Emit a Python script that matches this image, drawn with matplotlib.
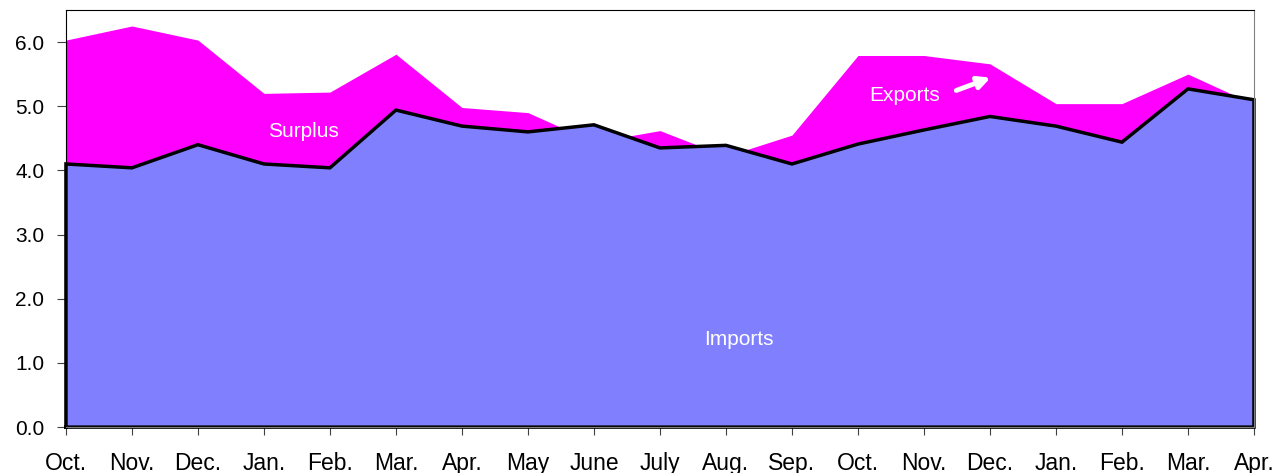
import numpy as np
import matplotlib.pyplot as plt

plt.rcParams["font.family"] = ["Liberation Sans", "DejaVu Sans"]

months = ["Oct.", "Nov.", "Dec.", "Jan.", "Feb.", "Mar.", "Apr.", "May", "June",
          "July", "Aug.", "Sep.", "Oct.", "Nov.", "Dec.", "Jan.", "Feb.", "Mar.", "Apr."]
exports = [6.03, 6.25, 6.03, 5.20, 5.22, 5.81, 4.98, 4.90, 4.44, 4.62,
           4.22, 4.55, 5.79, 5.79, 5.66, 5.04, 5.04, 5.50, 5.03]
imports = [4.10, 4.04, 4.40, 4.10, 4.04, 4.94, 4.69, 4.60, 4.71, 4.35,
           4.39, 4.10, 4.41, 4.63, 4.84, 4.69, 4.44, 5.27, 5.10]

x = np.arange(len(months))

fig = plt.figure(figsize=(12.78, 4.73), dpi=100)
ax = fig.add_axes([0.0516, 0.097, 0.9296, 0.882])

ax.fill_between(x, 0, exports, color="#FF00FF", lw=0)
ax.fill_between(x, 0, imports, color="#8080FF", lw=0)
# black outline around the imports area
ox = np.concatenate([[x[0]], x, [x[-1]], [x[0]]])
oy = np.concatenate([[0], imports, [0], [0]])
ax.plot(ox, oy, color="black", lw=2.5, solid_joinstyle="miter", clip_on=False)

ax.text(3.6, 4.6, "Surplus", color="white", fontsize=15, ha="center", va="center")
ax.text(10.2, 1.37, "Imports", color="white", fontsize=15, ha="center", va="center")
ax.text(12.7, 5.16, "Exports", color="white", fontsize=15, ha="center", va="center")
ax.annotate("", xy=(14.05, 5.46), xytext=(13.45, 5.23),
            arrowprops=dict(arrowstyle="-|>", color="white", lw=3.5, mutation_scale=18))

ax.set_xlim(0, 18)
ax.set_ylim(0, 6.5)
ax.set_yticks(np.arange(0, 6.5, 1.0))
ax.set_yticklabels([f"{v:.1f}" for v in np.arange(0, 6.5, 1.0)], fontsize=15)
ax.set_xticks(x)
ax.set_xticklabels(months, fontsize=16.5)
ax.tick_params(axis="x", length=6, pad=12, color="#404040")
ax.tick_params(axis="y", length=6.5, pad=9, color="#404040")
for s in ["top", "left"]:
    ax.spines[s].set_color("black")
ax.spines["right"].set_color("#808080")
ax.spines["bottom"].set_color("#808080")

fig.savefig("out.png", dpi=100)
